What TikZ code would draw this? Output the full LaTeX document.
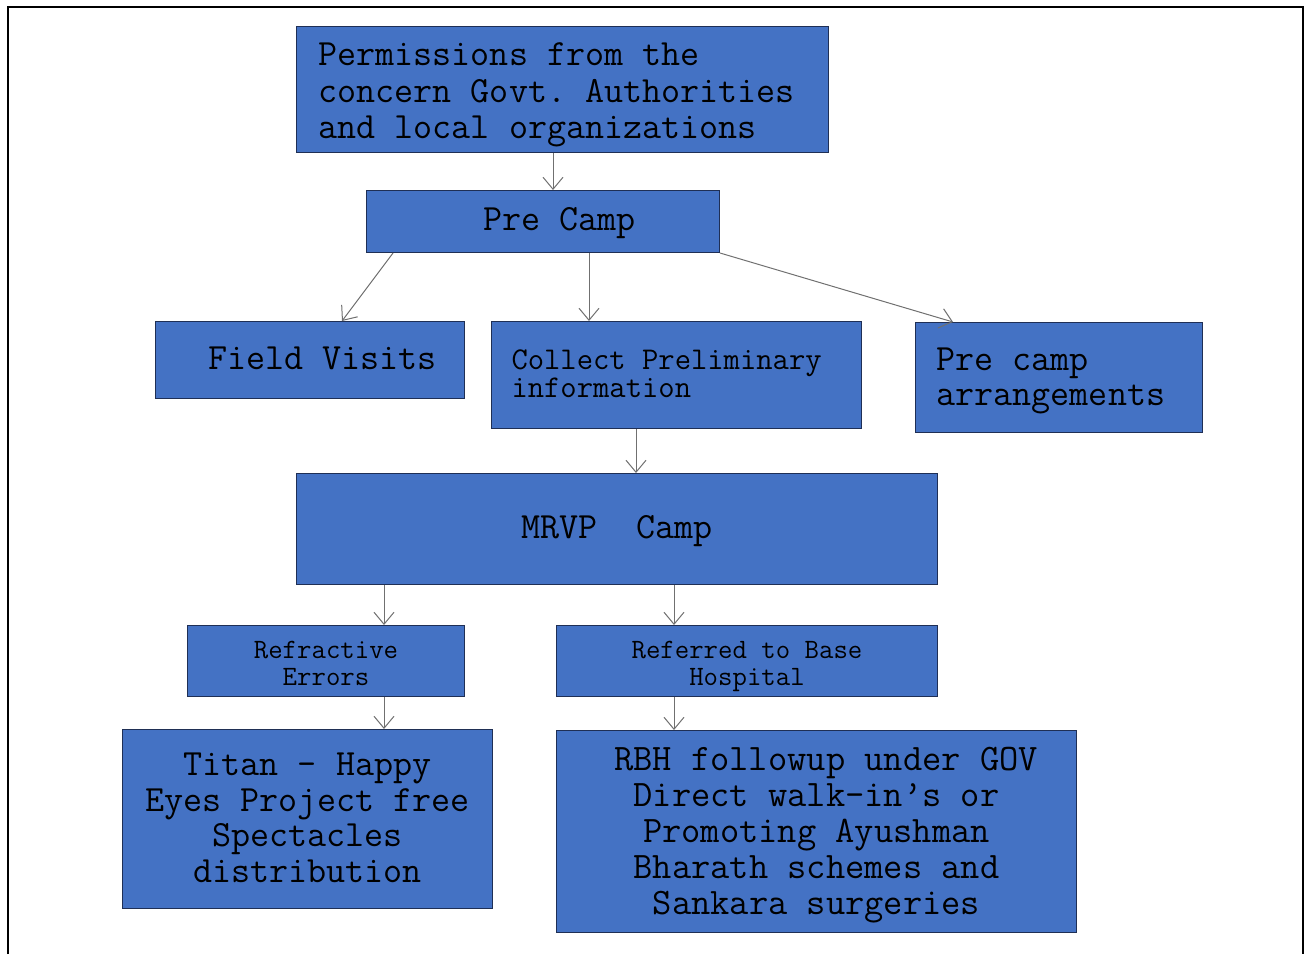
\documentclass[tikz,border=0pt]{standalone}
\usepackage{fontspec}
\usetikzlibrary{arrows.meta}
\definecolor{boxfill}{HTML}{4472C4}
\definecolor{boxline}{HTML}{1F2F55}
\definecolor{arrgray}{HTML}{707070}
\newcommand\monosz[2]{\ttfamily\fontsize{#1}{#2}\selectfont}
\newcommand\ms{\hspace{\fontcharwd\font`\M}}
\newcommand\hstr[1]{\rule{0pt}{#1pt}}
\newcommand\dstr[1]{\rule[-#1pt]{0pt}{0pt}}
\tikzset{
  box/.style={draw=boxline, line width=1pt, fill=boxfill, anchor=north west,
    inner ysep=0pt, text=black},
  bigfont/.style={font=\monosz{37}{36}},
  midfont/.style={font=\monosz{31.7}{28}},
  smallfont/.style={font=\monosz{28}{27}},
  arr/.style={draw=arrgray, line width=1pt, -{Straight Barb[length=12pt,width=20pt,line width=1pt]}},
  frame/.style={draw=black, line width=2pt}
}
\begin{document}
\begin{tikzpicture}[x=1pt,y=-1pt]
\useasboundingbox (0,0) rectangle (1310,954);
\draw[frame] (8,954) -- (8,7) -- (1303,7) -- (1303,954);

\node[box,font=\monosz{37}{36.5},minimum width=532,minimum height=126,inner xsep=22,text width=488,align=left]
  (perm) at (296,26) {\hstr{35}Permissions\ms from\ms the\\concern\ms Govt.\ms Authorities\\and\ms local\ms organizations\dstr{10}};
\node[box,bigfont,minimum width=353,minimum height=62,align=center]
  (pre) at (366,190) {\hstr{27}\dstr{9}\hspace*{33pt}Pre\ms Camp};
\node[box,bigfont,minimum width=309,minimum height=77,align=center]
  (field) at (155,321) {\hstr{29}\dstr{10}\hspace*{25pt}Field\ms Visits};
\node[box,midfont,minimum width=370,minimum height=107,inner xsep=20,text width=330,align=left]
  (collect) at (491,321) {\hstr{26}Collect\ms Preliminary\\information\dstr{10}};
\node[box,font=\monosz{37}{35},minimum width=287,minimum height=110,inner xsep=21,text width=245,align=left]
  (arrange) at (915,322) {\hstr{31}Pre\ms camp\\arrangements\dstr{10}};
\node[box,bigfont,minimum width=641,minimum height=111,align=center]
  (mrvp) at (296,473) {\hstr{29}\dstr{10}MRVP\ms\ms Camp};
\node[box,smallfont,minimum width=277,minimum height=71,align=center]
  (refr) at (187,625) {\hstr{29}Refractive\\Errors\dstr{8}};
\node[box,smallfont,minimum width=381,minimum height=71,align=center]
  (refd) at (556,625) {\hstr{29}Referred\ms to\ms Base\\Hospital\dstr{8}};
\node[box,font=\monosz{37}{35.7},minimum width=370,minimum height=179,align=center]
  (titan) at (122,729) {\hstr{30}Titan\ms -\ms Happy\\Eyes\ms Project\ms free\\Spectacles\\distribution\dstr{10}};
\node[box,font=\monosz{37.4}{36},minimum width=520,minimum height=202,align=center]
  (rbh) at (556,730) {\hstr{32}\hspace*{19pt}RBH\ms followup\ms under\ms GOV\\Direct\ms walk-in’s\ms or\\Promoting\ms Ayushman\\Bharath\ms schemes\ms and\\Sankara\ms surgeries\dstr{10}};

\draw[arr] (perm.south -| 553,0) -- (pre.north -| 553,0);
\draw[arr] (pre.south -| 393,0) -- (field.north -| 342,0);
\draw[arr] (pre.south -| 589,0) -- (collect.north -| 589,0);
\draw[arr] (pre.south east) -- (arrange.north -| 953,0);
\draw[arr] (collect.south -| 636,0) -- (mrvp.north -| 636,0);
\draw[arr] (mrvp.south -| 384,0) -- (refr.north -| 384,0);
\draw[arr] (mrvp.south -| 674,0) -- (refd.north -| 674,0);
\draw[arr] (refr.south -| 384,0) -- (titan.north -| 384,0);
\draw[arr] (refd.south -| 674,0) -- (rbh.north -| 674,0);
\end{tikzpicture}
\end{document}
